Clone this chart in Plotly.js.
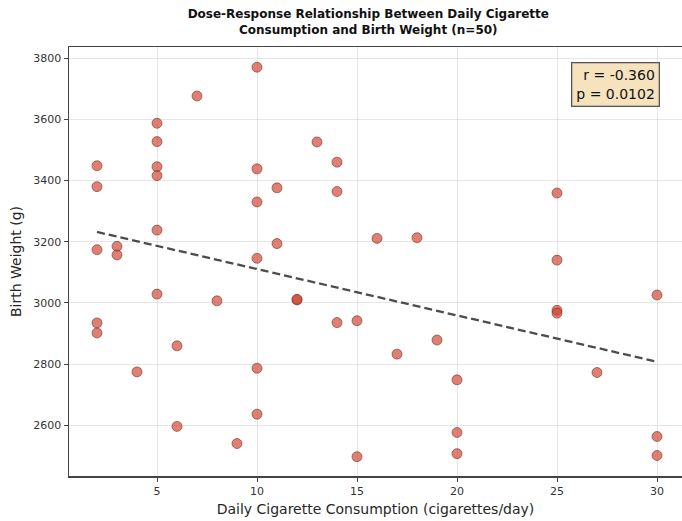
<!DOCTYPE html>
<html>
<head>
<meta charset="utf-8">
<script src="https://cdn.plot.ly/plotly-3.0.1.min.js"></script>
<style>html,body{margin:0;padding:0;background:#fff;}#chart{width:682px;height:521px;}</style>
</head>
<body>
<div id="chart"></div>
<script>
// Cigarettes per day for each mother
const cigarettes = [
  2, 2, 2, 2, 2,
  3, 3,
  4,
  5, 5, 5, 5, 5, 5,
  6, 6,
  7,
  8,
  9,
  10, 10, 10, 10, 10, 10,
  11, 11,
  12, 12,
  13,
  14, 14, 14,
  15, 15,
  16,
  17,
  18,
  19,
  20, 20, 20,
  25, 25, 25, 25,
  27,
  30, 30, 30
];
// Birth weight (g)
const birthWeight = [
  3448, 3380, 3174, 2935, 2902,
  3185, 3157,
  2775,
  3587, 3527, 3445, 3416, 3238, 3029,
  2860, 2597,
  3676,
  3007,
  2541,
  3770, 3438, 3330, 3146, 2787, 2637,
  3376, 3194,
  3010, 3012,
  3526,
  3460, 3364, 2936,
  2942, 2498,
  3211,
  2833,
  3213,
  2879,
  2749, 2577, 2508,
  3359, 3140, 2976, 2967,
  2773,
  3026, 2564, 2502
];
// Fitted trend line endpoints
const trendX = [2, 30];
const trendY = [3232, 2808];
const statsLines = ["r = -0.360", "p = 0.0102"];
const xTicks = [5, 10, 15, 20, 25, 30];
const yTicks = [2600, 2800, 3000, 3200, 3400, 3600, 3800];

const font = "DejaVu Sans, sans-serif";

const traces = [
  {
    x: cigarettes, y: birthWeight, type: "scatter", mode: "markers",
    marker: {size: 10, color: "rgba(205,70,50,0.68)", line: {color: "rgba(120,35,25,0.7)", width: 0.8}},
    hoverinfo: "x+y", showlegend: false
  },
  {
    x: trendX, y: trendY, type: "scatter", mode: "lines",
    line: {color: "rgba(45,45,45,0.85)", width: 2.3, dash: "8px,4px"},
    showlegend: false
  }
];

const layout = {
  width: 682, height: 521,
  paper_bgcolor: "#fff", plot_bgcolor: "#fff",
  margin: {l: 69, r: 0, t: 47, b: 45},
  font: {family: font, color: "#262626"},
  title: {
    text: "<b>Dose-Response Relationship Between Daily Cigarette<br>Consumption and Birth Weight (n=50)</b>",
    font: {family: font, size: 12, color: "#111"},
    x: 0.54, xanchor: "center", y: 0.965, yanchor: "middle"
  },
  xaxis: {
    range: [0.6, 31.25],
    tickvals: xTicks, ticktext: xTicks.map(String),
    showgrid: true, gridcolor: "rgba(200,200,200,0.45)", gridwidth: 1,
    zeroline: false,
    showline: true, linecolor: "#444", linewidth: 1.5, mirror: true,
    ticks: "outside", ticklen: 4, tickcolor: "#444", tickwidth: 1,
    tickfont: {size: 11, color: "#333"},
    title: {text: "Daily Cigarette Consumption (cigarettes/day)", font: {size: 14, color: "#262626"}, standoff: 7}
  },
  yaxis: {
    range: [2435, 3836],
    tickvals: yTicks, ticktext: yTicks.map(String),
    showgrid: true, gridcolor: "rgba(200,200,200,0.45)", gridwidth: 1,
    zeroline: false,
    showline: true, linecolor: "#444", linewidth: 1.5, mirror: false,
    ticks: "outside", ticklen: 4, tickcolor: "#444", tickwidth: 1,
    tickfont: {size: 11, color: "#333"},
    title: {text: "Birth Weight (g)", font: {size: 14, color: "#262626"}, standoff: 8}
  },
  annotations: [{
    xref: "paper", yref: "paper", x: 0.964, y: 0.964, xanchor: "right", yanchor: "top",
    text: statsLines.join("<br>"), align: "right", showarrow: false,
    font: {family: font, size: 14, color: "#111"},
    bgcolor: "rgba(245,222,179,0.85)", bordercolor: "#555", borderwidth: 1.3, borderpad: 4
  }]
};

Plotly.newPlot("chart", traces, layout, {displayModeBar: false, staticPlot: true});
</script>
</body>
</html>
